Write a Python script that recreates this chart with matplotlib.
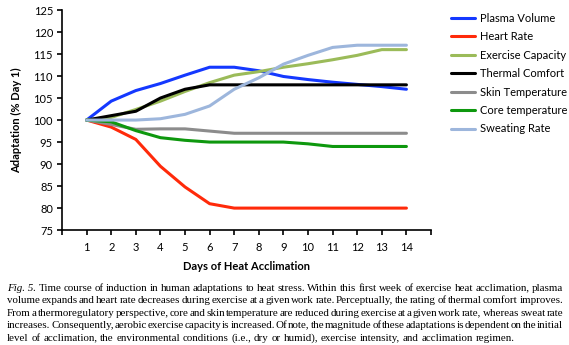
import math
import matplotlib
matplotlib.use('Agg')
import matplotlib.pyplot as plt
from matplotlib.font_manager import FontProperties

days = list(range(1, 15))

plasma_volume = [100, 104.3, 106.7, 108.3, 110.2, 112.0, 112.0, 111.2, 109.9, 109.2, 108.6, 108.1, 107.6, 107.0]
heart_rate = [100, 98.4, 95.6, 89.5, 84.8, 81.0, 80.0, 80.0, 80.0, 80.0, 80.0, 80.0, 80.0, 80.0]
exercise_capacity = [100, 100.6, 102.4, 104.3, 106.5, 108.5, 110.2, 111.0, 112.0, 112.8, 113.7, 114.7, 116.0, 116.0]
thermal_comfort = [100, 101.0, 102.0, 105.0, 107.0, 108.0, 108.0, 108.0, 108.0, 108.0, 108.0, 108.0, 108.0, 108.0]
skin_temperature = [100, 99.0, 97.9, 98.0, 98.0, 97.5, 97.0, 97.0, 97.0, 97.0, 97.0, 97.0, 97.0, 97.0]
core_temperature = [100, 99.6, 97.6, 96.0, 95.4, 95.0, 95.0, 95.0, 95.0, 94.6, 94.0, 94.0, 94.0, 94.0]
sweating_rate = [100, 100.0, 100.0, 100.3, 101.3, 103.2, 107.0, 109.6, 112.7, 114.7, 116.5, 117.0, 117.0, 117.0]

series = [
    ('Plasma Volume', plasma_volume, '#1438FF'),
    ('Heart Rate', heart_rate, '#FF2A0A'),
    ('Exercise Capacity', exercise_capacity, '#9BBB59'),
    ('Thermal Comfort', thermal_comfort, '#000000'),
    ('Skin Temperature', skin_temperature, '#8C8C8C'),
    ('Core temperature', core_temperature, '#0E980E'),
    ('Sweating Rate', sweating_rate, '#9DB6DC'),
]

caption = [
    'Fig. 5. Time course of induction in human adaptations to heat stress. Within this first week of exercise heat acclimation, plasma',
    'volume expands and heart rate decreases during exercise at a given work rate. Perceptually, the rating of thermal comfort improves.',
    'From a thermoregulatory perspective, core and skin temperature are reduced during exercise at a given work rate, whereas sweat rate',
    'increases. Consequently, aerobic exercise capacity is increased. Of note, the magnitude of these adaptations is dependent on the initial',
    'level of acclimation, the environmental conditions (i.e., dry or humid), exercise intensity, and acclimation regimen.',
]

plt.rcParams['font.family'] = ['Lato', 'DejaVu Sans']

fig = plt.figure(figsize=(5.69, 3.45), dpi=100)
ax = fig.add_axes([0.109, 0.333, 0.6485, 0.638])

for name, vals, col in series:
    ax.plot(days, vals, color=col, lw=2.2, label=name, solid_joinstyle='round', solid_capstyle='round')

ax.set_xlim(0, 15)
ax.set_ylim(75, 125)
ax.set_xticks(range(0, 16))
ax.set_xticklabels([''] + [str(d) for d in days] + [''])
ax.set_yticks(range(75, 126, 5))
ax.spines['top'].set_visible(False)
ax.spines['right'].set_visible(False)
for s in ['left', 'bottom']:
    ax.spines[s].set_linewidth(1.2)
ax.tick_params(axis='both', direction='out', length=3.5, width=1.2, labelsize=8)
ax.tick_params(axis='x', pad=5)
ax.tick_params(axis='y', pad=3)
ax.set_xlabel('Days of Heat Acclimation', fontsize=8, fontweight='bold', labelpad=6)
ax.set_ylabel('Adaptation (% Day 1)', fontsize=8, fontweight='bold', labelpad=8)

fig.legend(loc='upper left', bbox_to_anchor=(0.784, 0.976), frameon=False, fontsize=8,
           handlelength=2.2, handletextpad=0.45, labelspacing=0.67, borderaxespad=0)

# caption, justified word by word
fig.canvas.draw()
rend = fig.canvas.get_renderer()
W, H = fig.bbox.width, fig.bbox.height
left_px, right_px = 7, 563
baselines = [291, 303, 316, 328, 341]
cap_size = 7.9
props = {st: FontProperties(family='Liberation Serif', size=cap_size, style=st)
         for st in ('normal', 'italic')}


def metrics(w, style):
    return rend.get_text_width_height_descent(w, props[style], ismath=False)


space = metrics('x x', 'normal')[0] - metrics('xx', 'normal')[0]

for i, line in enumerate(caption):
    words = line.split(' ')
    styles = ['normal'] * len(words)
    if i == 0:
        words = ['Fig. 5.'] + words[2:]
        styles = ['italic'] + ['normal'] * (len(words) - 1)
    m = [metrics(w, s) for w, s in zip(words, styles)]
    widths = [wd for wd, _, _ in m]
    if i < len(caption) - 1:
        gap = (right_px - left_px - sum(widths)) / (len(words) - 1)
    else:
        gap = space
    x = left_px
    for w, s, (wd, h, d) in zip(words, styles, m):
        # agg snaps each word's bitmap to whole pixels; offset so that
        # every word lands on the same baseline row
        yb = baselines[i] + math.floor(h) - math.floor(h - d) - d
        fig.text(x / W, 1 - yb / H, w, fontproperties=props[s], va='baseline', ha='left')
        x += wd + gap

fig.savefig('out.png', dpi=100)
